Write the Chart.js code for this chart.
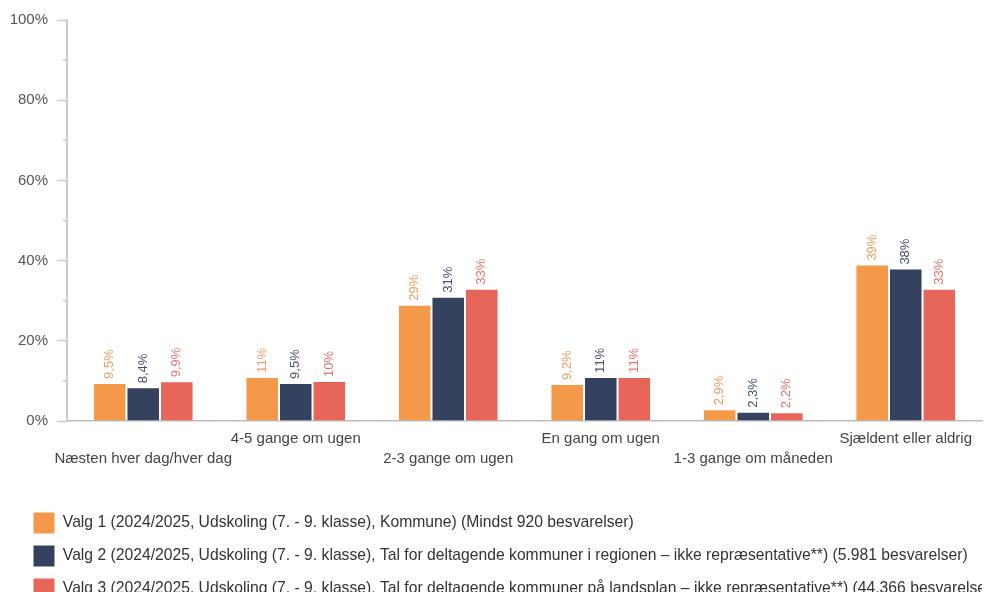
<!DOCTYPE html>
<html>
<head>
<meta charset="utf-8">
<script src="https://cdn.jsdelivr.net/npm/chart.js@4"></script>
<style>
  html, body { margin: 0; padding: 0; background: #fff; overflow: hidden; }
  #wrap { position: relative; width: 984px; height: 610px; }
</style>
</head>
<body>
<div id="wrap"><canvas id="freqChart"></canvas></div>
<script>
const CATEGORIES = [
  'Næsten hver dag/hver dag',
  '4-5 gange om ugen',
  '2-3 gange om ugen',
  'En gang om ugen',
  '1-3 gange om måneden',
  'Sjældent eller aldrig'
];
const SERIES_NAMES = [
  'Valg 1 (2024/2025, Udskoling (7. - 9. klasse), Kommune) (Mindst 920 besvarelser)',
  'Valg 2 (2024/2025, Udskoling (7. - 9. klasse), Tal for deltagende kommuner i regionen – ikke repræsentative**) (5.981 besvarelser)',
  'Valg 3 (2024/2025, Udskoling (7. - 9. klasse), Tal for deltagende kommuner på landsplan – ikke repræsentative**) (44.366 besvarelser)'
];
const VALG1 = [9.5, 11, 29, 9.2, 2.9, 39];
const VALG2 = [8.4, 9.5, 31, 11, 2.3, 38];
const VALG3 = [9.9, 10, 33, 11, 2.2, 33];
const Y_TICKS = [0, 20, 40, 60, 80, 100];

const BAR_COLORS   = ['#F4994A', '#34425F', '#E8655A'];
const LABEL_COLORS = ['#EAA063', '#46526C', '#E27670'];
const FONT = "'Liberation Sans', Arial, sans-serif";

// 9,5% / 11%
function fmtPct(v) {
  return v < 10 ? v.toFixed(1).replace('.', ',') + '%' : Math.round(v) + '%';
}

// rotated value labels above each bar
const barLabels = {
  id: 'barLabels',
  afterDatasetsDraw(chart) {
    const ctx = chart.ctx;
    chart.data.datasets.forEach((ds, i) => {
      chart.getDatasetMeta(i).data.forEach((bar, j) => {
        ctx.save();
        ctx.translate(bar.x, bar.y - 4);
        ctx.rotate(-Math.PI / 2);
        ctx.fillStyle = LABEL_COLORS[i];
        ctx.font = '13px ' + FONT;
        ctx.textAlign = 'left';
        ctx.textBaseline = 'middle';
        ctx.fillText(fmtPct(ds.data[j]), 0, 0);
        ctx.restore();
      });
    });
  }
};

// short minor ticks between the labelled ones
const minorTicks = {
  id: 'minorTicks',
  afterDraw(chart) {
    const y = chart.scales.y, ctx = chart.ctx;
    ctx.save();
    ctx.strokeStyle = '#cccccc';
    ctx.lineWidth = 1.5;
    Y_TICKS.slice(0, -1).forEach(t => {
      const py = y.getPixelForValue(t + 10);
      ctx.beginPath();
      ctx.moveTo(y.right - 4, py);
      ctx.lineTo(y.right, py);
      ctx.stroke();
    });
    ctx.restore();
  }
};

// legend sits a bit further in than the y axis labels
const legendInset = {
  id: 'legendInset',
  afterLayout(chart) { chart.legend.left = 22; }
};

// alternate the category labels over two rows
const xLabels = CATEGORIES.map((c, i) => i % 2 === 0 ? ['', c] : [c, '']);

new Chart(document.getElementById('freqChart'), {
  type: 'bar',
  data: {
    labels: xLabels,
    datasets: [VALG1, VALG2, VALG3].map((d, i) => ({
      label: SERIES_NAMES[i],
      data: d,
      backgroundColor: BAR_COLORS[i],
      borderColor: '#ffffff',
      borderWidth: 1,
      borderSkipped: 'bottom',
      barPercentage: 1,
      categoryPercentage: 0.66
    }))
  },
  options: {
    responsive: true,
    maintainAspectRatio: false,
    animation: false,
    layout: { padding: { top: 20, left: 4, right: 2, bottom: 0 } },
    plugins: {
      tooltip: { enabled: false },
      legend: {
        position: 'bottom',
        align: 'start',
        labels: {
          boxWidth: 22,
          boxHeight: 22,
          padding: 11,
          color: '#333',
          font: { family: FONT, size: 15.7 }
        }
      }
    },
    scales: {
      x: {
        grid: { display: false },
        border: { display: true, color: '#bbbbbb', width: 1.5 },
        ticks: {
          autoSkip: false,
          maxRotation: 0,
          minRotation: 0,
          padding: 0,
          color: '#444',
          font: { family: FONT, size: 15, lineHeight: 1.33 }
        },
        afterFit(scale) { scale.height = 80; }
      },
      y: {
        min: 0,
        max: 100,
        afterBuildTicks(scale) { scale.ticks = Y_TICKS.map(v => ({ value: v })); },
        afterFit(scale) { scale.width = 63; },
        grid: { drawOnChartArea: false, drawTicks: true, tickLength: 10, tickColor: '#cccccc', tickWidth: 1.5 },
        border: { display: true, color: '#cccccc', width: 2 },
        ticks: {
          padding: 9,
          color: '#555',
          font: { family: FONT, size: 15 },
          callback: v => v + '%'
        }
      }
    }
  },
  plugins: [barLabels, minorTicks, legendInset]
});
</script>
</body>
</html>
